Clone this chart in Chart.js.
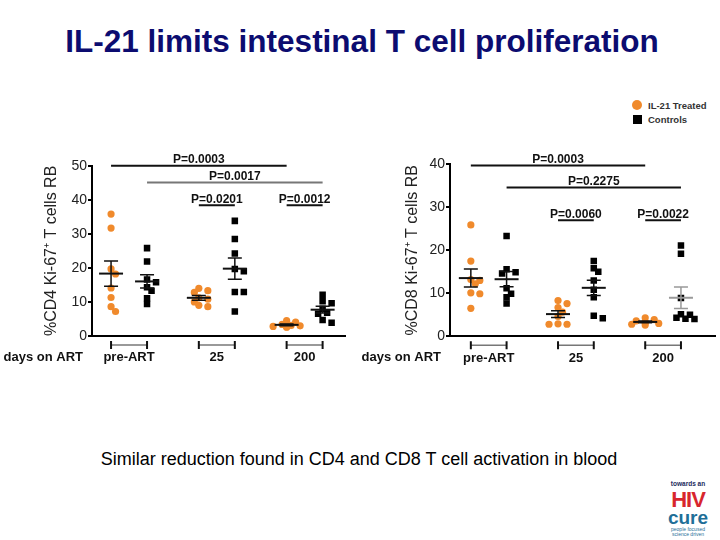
<!DOCTYPE html>
<html>
<head>
<meta charset="utf-8">
<script src="https://cdn.jsdelivr.net/npm/chart.js@4"></script>
<style>
body { margin: 0; width: 720px; height: 540px; background: #fff; position: relative; overflow: hidden; font-family: "Liberation Sans", Arial, sans-serif; }
#title { position: absolute; top: 23px; left: 2px; width: 720px; text-align: center; font-weight: bold; font-size: 31.5px; line-height: 37px; color: #0c0c70; }
.box { position: absolute; top: 130px; width: 360px; height: 250px; }
#legend { position: absolute; left: 632px; top: 99px; font-size: 9.5px; font-weight: bold; color: #333; }
#legend div { height: 14px; line-height: 14px; white-space: nowrap; }
#legend .dot { display: inline-block; width: 10px; height: 10px; border-radius: 50%; background: #F08A2C; margin-right: 6px; vertical-align: -1px; }
#legend .sq { display: inline-block; width: 9px; height: 9px; background: #000; margin: 0 6px 0 1px; vertical-align: -1px; }
#caption { position: absolute; top: 448px; left: 0; width: 718px; text-align: center; font-size: 18px; line-height: 22px; color: #000; }
#logo { position: absolute; left: 660px; top: 481px; width: 56px; text-align: center; font-weight: bold; line-height: 1; }
</style>
</head>
<body>
<div id="title">IL-21 limits intestinal T cell proliferation</div>
<div id="legend">
  <div><span class="dot"></span>IL-21 Treated</div>
  <div><span class="sq"></span>Controls</div>
</div>
<div class="box" style="left:0"><canvas id="cd4Chart"></canvas></div>
<div class="box" style="left:360px"><canvas id="cd8Chart"></canvas></div>
<div id="caption">Similar reduction found in CD4 and CD8 T cell activation in blood</div>
<div id="logo">
  <div style="font-size:6.5px;color:#1b2a5c">towards an</div>
  <div style="font-size:22px;color:#d8262d;letter-spacing:-1px;margin-top:1px">HIV</div>
  <div style="font-size:19px;color:#1f6f98;margin-top:-3px">cure</div>
  <div style="font-size:5px;color:#1f6f98;font-weight:normal">people focused<br>science driven</div>
</div>
<script>
const groups = ["pre-ART", "25", "200"];

// %Ki-67+ per animal, one small array per time point
const cd4Treated = [
    [35.8, 31.7, 19.7, 18.2, 14.1, 11.3, 8.6, 7.2],
    [14.0, 13.3, 12.8, 11.2, 10.8, 10.0, 9.0, 8.6],
    [4.5, 4.1, 3.4, 3.1, 3.0, 2.8, 2.7, 2.6],
];
const cd4Controls = [
    [25.8, 21.9, 16.6, 15.8, 14.3, 13.3, 11.1, 9.4],
    [33.8, 28.5, 24.2, 19.7, 19.0, 12.9, 12.9, 7.2],
    [12.1, 10.2, 9.6, 8.0, 6.8, 6.5, 4.7, 3.9],
];
const cd8Treated = [
    [25.9, 17.5, 13.2, 13.0, 12.2, 10.1, 9.9, 6.5],
    [8.3, 7.6, 6.7, 5.6, 4.6, 2.9, 2.8, 2.8],
    [4.3, 3.9, 3.6, 3.3, 3.2, 3.0, 2.8, 2.6],
];
const cd8Controls = [
    [23.3, 15.6, 14.9, 14.6, 11.2, 9.9, 9.1, 7.6],
    [17.5, 15.8, 15.0, 13.0, 10.8, 9.1, 4.8, 4.2],
    [21.1, 19.2, 8.9, 5.1, 5.0, 4.3, 4.0, 4.1],
];

// comparisons: [text, group a, series a, group b, series b, bar height]
const cd4Pvalues = [
    ["P=0.0003", 0, "t", 2, "t", 50],
    ["P=0.0017", 0, "c", 2, "c", 45.1],
    ["P=0.0201", 1, "t", 1, "c", 38.4],
    ["P=0.0012", 2, "t", 2, "c", 38.4],
];
const cd8Pvalues = [
    ["P=0.0003", 0, "t", 2, "t", 39.7],
    ["P=0.2275", 0, "c", 2, "c", 34.6],
    ["P=0.0060", 1, "t", 1, "c", 27.0],
    ["P=0.0022", 2, "t", 2, "c", 27.0],
];

const ORANGE = "#F08A2C";
const FONT = "'Liberation Sans', Arial, sans-serif";
const SHIFT = 0.205; // treated left of group centre, controls right

function colX(g, s) {
    return g + 1 + (s === "t" ? -SHIFT : SHIFT);
}

function stats(vals) {
    const n = vals.length;
    const mean = vals.reduce((a, b) => a + b, 0) / n;
    const sd = Math.sqrt(vals.reduce((a, b) => a + (b - mean) ** 2, 0) / (n - 1));
    return { mean, sem: sd / Math.sqrt(n) };
}

function toPoints(arrs, s) {
    const pts = [];
    arrs.forEach((vals, g) => vals.forEach(v => pts.push({ x: colX(g, s), y: v, g: g, c: colX(g, s) })));
    return pts;
}

// --- overlay: means, SEM, significance bars, grouped x axis ---
function makeMarks(treated, controls, pvalues, opts) {
    return {
        id: "marks",
        afterDatasetsDraw(chart) {
            const ctx = chart.ctx, xs = chart.scales.x, ys = chart.scales.y;
            [["t", treated], ["c", controls]].forEach(([s, arrs]) => {
                arrs.forEach((vals, g) => {
                    const st = stats(vals);
                    const cx = xs.getPixelForValue(colX(g, s));
                    const ym = ys.getPixelForValue(st.mean);
                    const yt = ys.getPixelForValue(st.mean + st.sem);
                    const yb = ys.getPixelForValue(st.mean - st.sem);
                    const gray = opts.gray && opts.gray[0] === g && opts.gray[1] === s;
                    ctx.save();
                    ctx.strokeStyle = gray ? "#999" : "#111";
                    ctx.lineWidth = 2;
                    ctx.beginPath();
                    ctx.moveTo(cx - 12, ym); ctx.lineTo(cx + 12, ym);
                    ctx.stroke();
                    ctx.lineWidth = 1.5;
                    ctx.beginPath();
                    ctx.moveTo(cx, yt); ctx.lineTo(cx, yb);
                    ctx.moveTo(cx - 7, yt); ctx.lineTo(cx + 7, yt);
                    ctx.moveTo(cx - 7, yb); ctx.lineTo(cx + 7, yb);
                    ctx.stroke();
                    ctx.restore();
                });
            });
        },
        afterDraw(chart) {
            const ctx = chart.ctx, xs = chart.scales.x, ys = chart.scales.y;
            const area = chart.chartArea;
            ctx.save();
            // significance bars
            ctx.font = "bold 12px " + FONT;
            ctx.textAlign = "center";
            ctx.textBaseline = "alphabetic";
            pvalues.forEach(([text, ga, sa, gb, sb, h], i) => {
                const x1 = xs.getPixelForValue(colX(ga, sa));
                const x2 = xs.getPixelForValue(colX(gb, sb));
                const y = ys.getPixelForValue(h);
                ctx.strokeStyle = opts.grayBar === i ? "#777" : "#111";
                ctx.lineWidth = 2;
                ctx.beginPath();
                ctx.moveTo(x1, y); ctx.lineTo(x2, y);
                ctx.stroke();
                ctx.fillStyle = "#111";
                ctx.fillText(text, (x1 + x2) / 2, y - 2.5);
            });
            // grouping brackets under the axis
            const by = area.bottom + 9;
            groups.forEach((name, g) => {
                const x1 = xs.getPixelForValue(colX(g, "t"));
                const x2 = xs.getPixelForValue(colX(g, "c"));
                ctx.strokeStyle = "#777";
                ctx.lineWidth = 1.5;
                ctx.beginPath();
                ctx.moveTo(x1, by); ctx.lineTo(x2, by);
                ctx.stroke();
                ctx.strokeStyle = "#111";
                ctx.lineWidth = 2;
                ctx.beginPath();
                ctx.moveTo(x1, by - 4); ctx.lineTo(x1, by + 4);
                ctx.moveTo(x2, by - 4); ctx.lineTo(x2, by + 4);
                ctx.stroke();
            });
            ctx.font = "bold 13px " + FONT;
            ctx.fillStyle = "#111";
            ctx.textAlign = "right";
            ctx.textBaseline = "middle";
            ctx.fillText("days on ART", area.left - 9, area.bottom + 21);
            ctx.restore();
        },
    };
}

// spread points sideways where they would overlap (Prism-like scatter)
function spread(chart) {
    const xs = chart.scales.x, ys = chart.scales.y;
    chart.data.datasets.forEach(ds => {
        const placed = [];
        const order = ds.data.slice().sort((a, b) => b.y - a.y);
        order.forEach(p => {
            const cx = xs.getPixelForValue(p.c);
            const py = ys.getPixelForValue(p.y);
            const steps = [0, 1, -1, 2, -2, 3, -3];
            let off = 0;
            for (const k of steps) {
                const px = cx + k * 4.5;
                const hit = placed.some(q => q.g === p.g && (q.px - px) ** 2 + (q.py - py) ** 2 < 5.6 ** 2);
                if (!hit) { off = k * 4.5; break; }
            }
            placed.push({ g: p.g, px: cx + off, py: py });
            p.x = xs.getValueForPixel(cx + off);
        });
    });
    chart.update("none");
}

function createChart(canvasId, cfg) {
    const ctx = document.getElementById(canvasId).getContext("2d");
    const chart = new Chart(ctx, {
        type: "scatter",
        data: {
            datasets: [
                {
                    label: "IL-21 Treated",
                    data: toPoints(cfg.treated, "t"),
                    backgroundColor: ORANGE,
                    borderColor: ORANGE,
                    pointStyle: "circle",
                    pointRadius: 3.6,
                    borderWidth: 0,
                },
                {
                    label: "Controls",
                    data: toPoints(cfg.controls, "c"),
                    backgroundColor: "#000",
                    borderColor: "#000",
                    pointStyle: "rect",
                    pointRadius: 4.6,
                    borderWidth: 0,
                },
            ],
        },
        options: {
            responsive: false,
            animation: false,
            events: [],
            layout: { padding: { top: cfg.top, right: cfg.right, left: 0, bottom: 0 } },
            plugins: { legend: { display: false }, tooltip: { enabled: false } },
            scales: {
                x: {
                    type: "linear",
                    min: cfg.xMin,
                    max: cfg.xMax,
                    grid: { display: false, drawTicks: false },
                    border: { display: true, color: "#000", width: 2 },
                    afterBuildTicks: s => { s.ticks = groups.map((n, i) => ({ value: i + 1 })); },
                    ticks: {
                        padding: 14,
                        color: "#111",
                        font: { family: FONT, size: 13, weight: "bold" },
                        callback: (v) => groups[Math.round(v) - 1],
                    },
                    afterFit: s => { s.height = 250 - cfg.bottom; },
                },
                y: {
                    min: 0,
                    max: cfg.yMax,
                    grid: { drawOnChartArea: false, drawTicks: true, tickLength: 4, color: "#000", lineWidth: 2 },
                    border: { display: true, color: "#000", width: 2 },
                    ticks: {
                        stepSize: 10,
                        padding: 1,
                        color: "#222",
                        font: { family: FONT, size: 14 },
                    },
                    title: {
                        display: true,
                        text: cfg.yTitle,
                        color: "#222",
                        font: { family: FONT, size: 16 },
                        padding: { top: cfg.titlePad, bottom: 0 },
                    },
                    afterFit: s => { s.width = cfg.axisLeft; },
                },
            },
        },
        plugins: [makeMarks(cfg.treated, cfg.controls, cfg.pvalues, cfg)],
    });
    spread(chart);
    return chart;
}

document.getElementById("cd4Chart").width = 360;
document.getElementById("cd4Chart").height = 250;
document.getElementById("cd8Chart").width = 360;
document.getElementById("cd8Chart").height = 250;

const cd4Chart = createChart("cd4Chart", {
    treated: cd4Treated,
    controls: cd4Controls,
    pvalues: cd4Pvalues,
    yMax: 50,
    yTitle: "%CD4 Ki-67\u207A T cells RB",
    xMin: 0.578,
    xMax: 3.46,
    top: 35.7,
    bottom: 206,
    right: 15,
    axisLeft: 92,
    titlePad: 42.4,
    grayBar: 1,
});

const cd8Chart = createChart("cd8Chart", {
    treated: cd8Treated,
    controls: cd8Controls,
    pvalues: cd8Pvalues,
    yMax: 40,
    yTitle: "%CD8 Ki-67\u207A T cells RB",
    xMin: 0.556,
    xMax: 3.60,
    top: 34.3,
    bottom: 206.3,
    right: 0,
    axisLeft: 90,
    titlePad: 43.4,
    gray: [2, "c"],
});
</script>
</body>
</html>
